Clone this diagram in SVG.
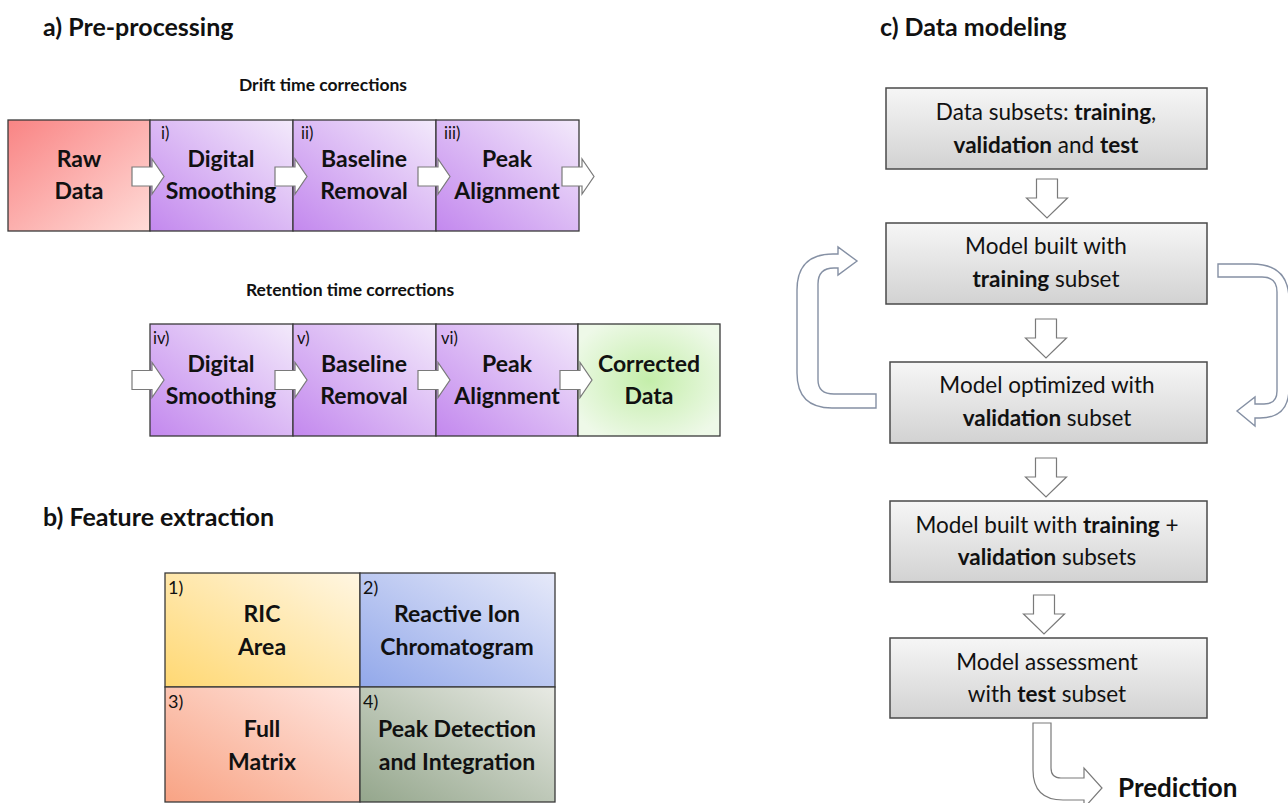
<svg xmlns="http://www.w3.org/2000/svg" width="1288" height="803" viewBox="0 0 1288 803">
  <defs>
    <linearGradient id="gPurple" x1="0" y1="1" x2="1" y2="0">
      <stop offset="0" stop-color="#c388ee"/>
      <stop offset="1" stop-color="#f3eafb"/>
    </linearGradient>
    <linearGradient id="gRaw" x1="0" y1="0" x2="1" y2="1">
      <stop offset="0" stop-color="#f98484"/>
      <stop offset="1" stop-color="#ffdcd8"/>
    </linearGradient>
    <radialGradient id="gGreen" cx="0.5" cy="0.5" r="0.6">
      <stop offset="0" stop-color="#c4eeaa"/>
      <stop offset="1" stop-color="#eef9e8"/>
    </radialGradient>
    <linearGradient id="gYellow" x1="0" y1="1" x2="1" y2="0">
      <stop offset="0" stop-color="#ffd873"/>
      <stop offset="1" stop-color="#fff6e2"/>
    </linearGradient>
    <linearGradient id="gBlue" x1="0" y1="1" x2="1" y2="0">
      <stop offset="0" stop-color="#92a8ea"/>
      <stop offset="1" stop-color="#e6e9f9"/>
    </linearGradient>
    <linearGradient id="gSalmon" x1="0" y1="1" x2="1" y2="0">
      <stop offset="0" stop-color="#f8a384"/>
      <stop offset="1" stop-color="#ffe6e0"/>
    </linearGradient>
    <linearGradient id="gSage" x1="0" y1="1" x2="1" y2="0">
      <stop offset="0" stop-color="#94a68c"/>
      <stop offset="1" stop-color="#e8eae4"/>
    </linearGradient>
    <linearGradient id="gGray" x1="0" y1="0" x2="0" y2="1">
      <stop offset="0" stop-color="#f6f6f6"/>
      <stop offset="1" stop-color="#d2d2d2"/>
    </linearGradient>
    <!-- right-pointing block arrow, tip at origin -->
    <path id="blockRight" d="M-32,-9.5 L-12,-9.5 L-12,-17.5 L0,0 L-12,17.5 L-12,9.5 L-32,9.5 Z"/>
    <!-- downward block arrow, tip at origin -->
    <path id="blockDown" d="M-10.5,-39 L10.5,-39 L10.5,-20 L20.5,-20 L0,0 L-20.5,-20 L-10.5,-20 Z"/>
  </defs>
  <style>
    text { font-family: Lato, "Open Sans", "Liberation Sans", sans-serif; fill: #111; }
    .title { font-size: 25px; font-weight: bold; }
    .sub { font-size: 17.5px; font-weight: bold; text-anchor: middle; }
    .step { font-size: 23px; font-weight: bold; text-anchor: middle; }
    .num { font-size: 16.5px; }
    .cell { font-size: 23px; font-weight: bold; text-anchor: middle; }
    .cnum { font-size: 18px; }
    .mtxt { font-size: 22.5px; text-anchor: middle; }
    .mtxt tspan.b { font-weight: bold; }
    .pred { font-size: 26px; font-weight: bold; }
    .box { stroke: #3a3a3a; stroke-width: 1.3; }
    .gbox { fill: url(#gGray); stroke: #4a4a4a; stroke-width: 1.5; }
    .arr { fill: #fff; stroke: #7a7a7a; stroke-width: 1.2; }
    .curve { fill: #fff; stroke: #8590a4; stroke-width: 1.4; }
  </style>

  <!-- a) Pre-processing -->
  <text class="title" x="43" y="36">a) Pre-processing</text>
  <text class="sub" x="323" y="91">Drift time corrections</text>
  <text class="sub" x="350" y="296">Retention time  corrections</text>

  <g id="raw-data">
    <rect class="box" x="8" y="120" width="142" height="111" fill="url(#gRaw)"/>
    <text class="step" x="79" y="167">Raw</text>
    <text class="step" x="79" y="199">Data</text>
  </g>
  <g id="drift-smoothing">
    <rect class="box" x="150" y="120" width="143" height="111" fill="url(#gPurple)"/>
    <text class="num" x="161" y="139">i)</text>
    <text class="step" x="221" y="167">Digital</text>
    <text class="step" x="221" y="199">Smoothing</text>
  </g>
  <g id="drift-baseline">
    <rect class="box" x="293" y="120" width="143" height="111" fill="url(#gPurple)"/>
    <text class="num" x="301" y="139">ii)</text>
    <text class="step" x="364" y="167">Baseline</text>
    <text class="step" x="364" y="199">Removal</text>
  </g>
  <g id="drift-alignment">
    <rect class="box" x="436" y="120" width="143" height="111" fill="url(#gPurple)"/>
    <text class="num" x="444" y="139">iii)</text>
    <text class="step" x="507" y="167">Peak</text>
    <text class="step" x="507" y="199">Alignment</text>
  </g>

  <g id="ret-smoothing">
    <rect class="box" x="150" y="324" width="143" height="112" fill="url(#gPurple)"/>
    <text class="num" x="153" y="344">iv)</text>
    <text class="step" x="221" y="372">Digital</text>
    <text class="step" x="221" y="404">Smoothing</text>
  </g>
  <g id="ret-baseline">
    <rect class="box" x="293" y="324" width="143" height="112" fill="url(#gPurple)"/>
    <text class="num" x="297" y="344">v)</text>
    <text class="step" x="364" y="372">Baseline</text>
    <text class="step" x="364" y="404">Removal</text>
  </g>
  <g id="ret-alignment">
    <rect class="box" x="436" y="324" width="142" height="112" fill="url(#gPurple)"/>
    <text class="num" x="441" y="344">vi)</text>
    <text class="step" x="507" y="372">Peak</text>
    <text class="step" x="507" y="404">Alignment</text>
  </g>
  <g id="corrected-data">
    <rect class="box" x="578" y="324" width="142" height="112" fill="url(#gGreen)"/>
    <text class="step" x="649" y="372">Corrected</text>
    <text class="step" x="649" y="404">Data</text>
  </g>

  <!-- b) Feature extraction -->
  <text class="title" x="43" y="526">b) Feature extraction</text>
  <g id="ric-area">
    <rect class="box" x="165" y="573" width="195" height="114" fill="url(#gYellow)"/>
    <text class="cnum" x="168" y="594">1)</text>
    <text class="cell" x="262" y="622">RIC</text>
    <text class="cell" x="262" y="655">Area</text>
  </g>
  <g id="reactive-ion">
    <rect class="box" x="360" y="573" width="195" height="114" fill="url(#gBlue)"/>
    <text class="cnum" x="363" y="594">2)</text>
    <text class="cell" x="457" y="622">Reactive Ion</text>
    <text class="cell" x="457" y="655">Chromatogram</text>
  </g>
  <g id="full-matrix">
    <rect class="box" x="165" y="687" width="195" height="115" fill="url(#gSalmon)"/>
    <text class="cnum" x="168" y="708">3)</text>
    <text class="cell" x="262" y="737">Full</text>
    <text class="cell" x="262" y="770">Matrix</text>
  </g>
  <g id="peak-detection">
    <rect class="box" x="360" y="687" width="195" height="115" fill="url(#gSage)"/>
    <text class="cnum" x="363" y="708">4)</text>
    <text class="cell" x="457" y="737">Peak Detection</text>
    <text class="cell" x="457" y="770">and Integration</text>
  </g>

  <!-- c) Data modeling -->
  <text class="title" x="880" y="36">c) Data modeling</text>
  <g id="data-subsets">
    <rect class="gbox" x="886" y="88" width="321" height="81"/>
    <text class="mtxt" x="1046" y="120">Data subsets: <tspan class="b">training</tspan>,</text>
    <text class="mtxt" x="1046" y="153"><tspan class="b">validation</tspan> and <tspan class="b">test</tspan></text>
  </g>
  <g id="model-built">
    <rect class="gbox" x="886" y="223" width="321" height="81"/>
    <text class="mtxt" x="1046" y="254">Model built with</text>
    <text class="mtxt" x="1046" y="287"><tspan class="b">training</tspan> subset</text>
  </g>
  <g id="model-optimized">
    <rect class="gbox" x="890" y="362" width="317" height="81"/>
    <text class="mtxt" x="1047" y="393">Model optimized with</text>
    <text class="mtxt" x="1047" y="426"><tspan class="b">validation</tspan> subset</text>
  </g>
  <g id="model-combined">
    <rect class="gbox" x="890" y="501" width="317" height="81"/>
    <text class="mtxt" x="1047" y="533">Model built with <tspan class="b">training</tspan> +</text>
    <text class="mtxt" x="1047" y="565"><tspan class="b">validation</tspan> subsets</text>
  </g>
  <g id="model-assessment">
    <rect class="gbox" x="890" y="638" width="317" height="80"/>
    <text class="mtxt" x="1047" y="670">Model assessment</text>
    <text class="mtxt" x="1047" y="702">with <tspan class="b">test</tspan> subset</text>
  </g>
  <g id="prediction">
    <text class="pred" x="1118" y="797">Prediction</text>
  </g>

  <g id="connectors">
    <!-- drift time chain -->
    <use href="#blockRight" class="arr" x="164" y="176.5"/>
    <use href="#blockRight" class="arr" x="307" y="176.5"/>
    <use href="#blockRight" class="arr" x="450" y="176.5"/>
    <use href="#blockRight" class="arr" x="594" y="176.5"/>
    <!-- retention time chain -->
    <use href="#blockRight" class="arr" x="164" y="380"/>
    <use href="#blockRight" class="arr" x="307" y="380"/>
    <use href="#blockRight" class="arr" x="450" y="380"/>
    <use href="#blockRight" class="arr" x="592" y="380"/>
    <!-- modeling flow -->
    <use href="#blockDown" class="arr" x="1047" y="218"/>
    <use href="#blockDown" class="arr" x="1046" y="358"/>
    <use href="#blockDown" class="arr" x="1046" y="497"/>
    <use href="#blockDown" class="arr" x="1044" y="634"/>
    <!-- feedback: optimized back to training -->
    <path class="curve" d="M876,408 L832,408 Q797,408 797,373 L797,290 Q797,254 833,254 L838,254 L838,247 L857,261 L838,275 L838,268 L834,268 Q818,268 818,284 L818,380 Q818,394 834,394 L876,394 Z"/>
    <!-- feed forward: training to optimized -->
    <path class="curve" d="M1218,264 L1252,264 Q1289,264 1289,300 L1289,388 Q1289,418 1260,418 L1255,418 L1255,426 L1237,411 L1255,397 L1255,404 L1264,404 Q1277,404 1277,391 L1277,292 Q1277,277 1262,277 L1218,277 Z"/>
    <!-- assessment to prediction -->
    <path class="arr" d="M1033,723 L1051,723 L1051,768 Q1051,778 1061,778 L1084,778 L1084,768 L1102,788 L1084,808 L1084,800 L1063,800 Q1033,800 1033,770 Z"/>
  </g>
</svg>
